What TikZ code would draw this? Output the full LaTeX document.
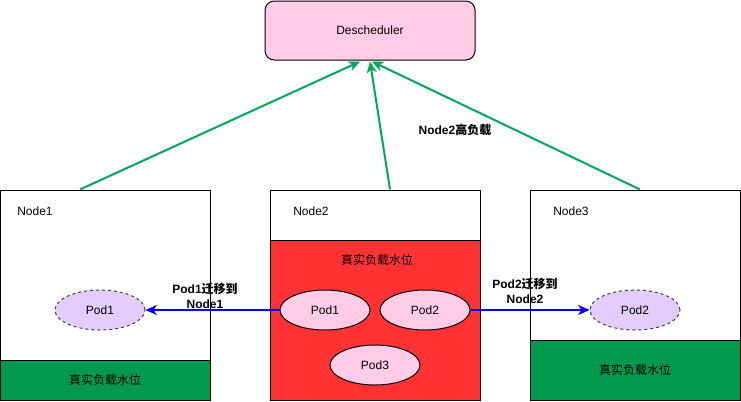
\documentclass[tikz,border=0pt]{standalone}
\usepackage{fontspec}
\setmainfont{Liberation Sans}
\newfontfamily\cjk{Noto Sans CJK SC}
\usepackage{xcolor}
\usetikzlibrary{arrows.meta,positioning,shapes.geometric,calc}

\definecolor{deschpink}{HTML}{FFCCE6}
\definecolor{podpink}{HTML}{FFCCE6}
\definecolor{podlilac}{HTML}{E5CCFF}
\definecolor{loadred}{HTML}{FF3333}
\definecolor{loadgreen}{HTML}{00994D}
\definecolor{reportgreen}{HTML}{00A85A}

\begin{document}
\begin{tikzpicture}[
      x=0.75pt, y=-0.75pt,
      font=\fontsize{9}{11}\selectfont,
      host/.style={draw, line width=0.75pt, fill=white, minimum width=157.5pt, minimum height=157.5pt, inner sep=0pt},
      band/.style={draw, line width=0.75pt, minimum width=157.5pt, inner sep=0pt},
      pod/.style={draw, ellipse, line width=0.75pt, fill=podpink, minimum width=67.5pt, minimum height=30pt, inner sep=0pt},
      newpod/.style={pod, dash pattern=on 2.25pt off 2.25pt, draw=black!75, fill=podlilac},
      lbl/.style={font=\fontsize{9}{11}\selectfont\bfseries, align=center, inner sep=1pt},
      report/.style={draw=reportgreen, line width=1.5pt, -{Stealth[length=8.5pt, width=7.5pt, inset=2.5pt]}},
      move/.style={draw=blue, line width=1.5pt, -{Stealth[length=8.5pt, width=7.5pt, inset=2.5pt]}}
    ]
    \useasboundingbox (0,0) rectangle (741,401);

    \node[draw, rounded corners=7pt, line width=0.75pt, fill=deschpink, minimum width=157.5pt, minimum height=44.25pt] (desch) at (370,30.5) {Descheduler};

    % nodes
    \node[host] (n1) at (105,295) {};
    \node[host] (n2) at (375,295) {};
    \node[host] (n3) at (635,295) {};
    \node[anchor=west, inner sep=0pt] (n1name) at (17,211) {Node1};
    \node[anchor=west, inner sep=0pt] (n2name) at (293,211) {Node2};
    \node[anchor=west, inner sep=0pt] (n3name) at (553,211) {Node3};

    % real load level
    \node[band, fill=loadgreen, minimum height=30pt] (b1) at (105,380) {\cjk 真实负载水位};
    \node[band, fill=loadred, minimum height=120pt] (b2) at (375,320) {};
    \node[band, fill=loadgreen, minimum height=45pt] (b3) at (635,370) {\cjk 真实负载水位};
    \node (b2text) at (377,260) {\cjk 真实负载水位};

    % pods
    \node[newpod] (p11) at (100,310) {Pod1};
    \node[pod] (p21) at (325,310) {Pod1};
    \node[pod] (p22) at (425,310) {Pod2};
    \node[pod] (p23) at (375,365) {Pod3};
    \node[newpod] (p32) at (635,310) {Pod2};

    \draw[report] ($(n1.north)+(-25,0)$) -- ($(desch.south)+(-10,1)$);
    \draw[report] ($(n2.north)+(15,0)$) -- ($(desch.south)+(0,1)$);
    \draw[report] ($(n3.north)+(5,0)$) -- ($(desch.south)+(2,1)$);
    \node[lbl] (hot) at (455,130) {Node2{\cjk 高负载}};

    \draw[move] (p21.west) -- (p11.east);
    \draw[move] (p22.east) -- (p32.west);
    \node[lbl] (mv1) at (205,296) {Pod1{\cjk 迁移到}\\Node1};
    \node[lbl] (mv2) at (525,291) {Pod2{\cjk 迁移到}\\Node2};
  \end{tikzpicture}
\end{document}
